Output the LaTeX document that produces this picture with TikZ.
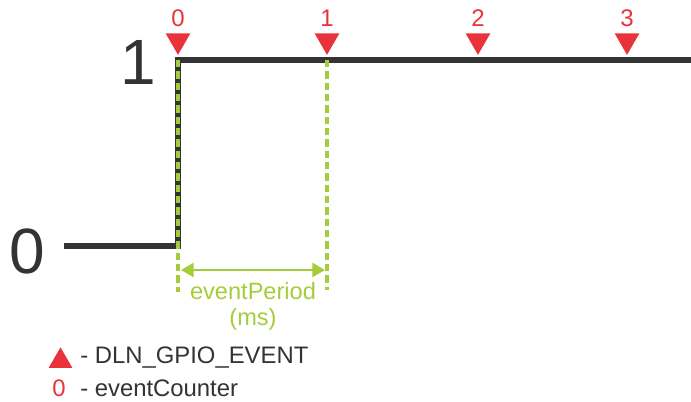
\documentclass[tikz,border=0pt]{standalone}
\usepackage{fontspec}
\setmainfont{Liberation Sans}
\usetikzlibrary{arrows.meta,positioning,shapes.geometric,calc}
\definecolor{sigdark}{HTML}{333333}
\definecolor{evred}{HTML}{E8333B}
\definecolor{pergreen}{HTML}{A5CD39}

\begin{document}
\begin{tikzpicture}[x=0.75pt, y=-0.75pt,
  signal/.style={draw=sigdark, line width=5pt},
  level/.style={text=sigdark, font=\fontsize{48}{48}\selectfont, inner sep=0pt},
  evmark/.style={regular polygon, regular polygon sides=3, shape border rotate=180, fill=evred, inner sep=0pt, minimum size=21.5pt},
  legmark/.style={regular polygon, regular polygon sides=3, fill=evred, inner sep=0pt, minimum size=20.5pt},
  evlabel/.style={text=evred, font=\fontsize{18}{19}\selectfont, inner sep=0pt},
  legtext/.style={text=sigdark, font=\fontsize{17.9}{20}\selectfont, inner sep=0pt, anchor=west},
  tick/.style={draw=pergreen, line width=2.5pt, dash pattern=on 5.5pt off 3pt},
  span/.style={{Triangle[length=9.5pt,width=10.5pt]}-{Triangle[length=9.5pt,width=10.5pt]}, draw=pergreen, fill=pergreen, line width=1.8pt}
]
  \useasboundingbox (0,0) rectangle (691,401);

  \node[level] (one) at (138,62.5) {1};
  \node[level] (zero) at (27.5,251) {0};

  \coordinate (lowstart) at (64,246);
  \coordinate (rise) at (178,246);
  \coordinate (risetop) at (178,60);
  \coordinate (highend) at (691,60);
  \draw[signal] (lowstart) -- (rise) -- (risetop) -- (highend);

  \coordinate (tick0) at (178,60);
  \coordinate (tick0end) at (178,292);
  \coordinate (tick1) at (327,60);
  \coordinate (tick1end) at (327,290);
  \draw[tick] (tick0) -- (tick0end);
  \draw[tick] (tick1) -- (tick1end);

  \foreach \x/\n in {178/0, 327/1, 478/2, 627/3} {
    \node[evmark] (ev\n) at (\x,40.5) {};
    \node[evlabel, above=4.5pt of ev\n.north] (evnum\n) {\n};
  }

  \coordinate (perstart) at (181,270);
  \coordinate (perend) at (325,270);
  \coordinate (permid) at ($(perstart)!0.5!(perend)$);
  \draw[span] (perstart) -- (perend);
  \node[text=pergreen, font=\fontsize{17.7}{19.5}\selectfont, align=center, inner sep=0pt, below=9pt of permid] (period) {eventPeriod\\(ms)};

  \node[legmark] (legtri) at (60.5,361) {};
  \node[legtext] (legev) at (80,357.5) {- DLN\_GPIO\_EVENT};
  \node[evlabel, font=\fontsize{17.9}{20}\selectfont] (legzero) at (59,388) {0};
  \node[legtext] (legcnt) at (80,388) {- eventCounter};
\end{tikzpicture}
\end{document}
